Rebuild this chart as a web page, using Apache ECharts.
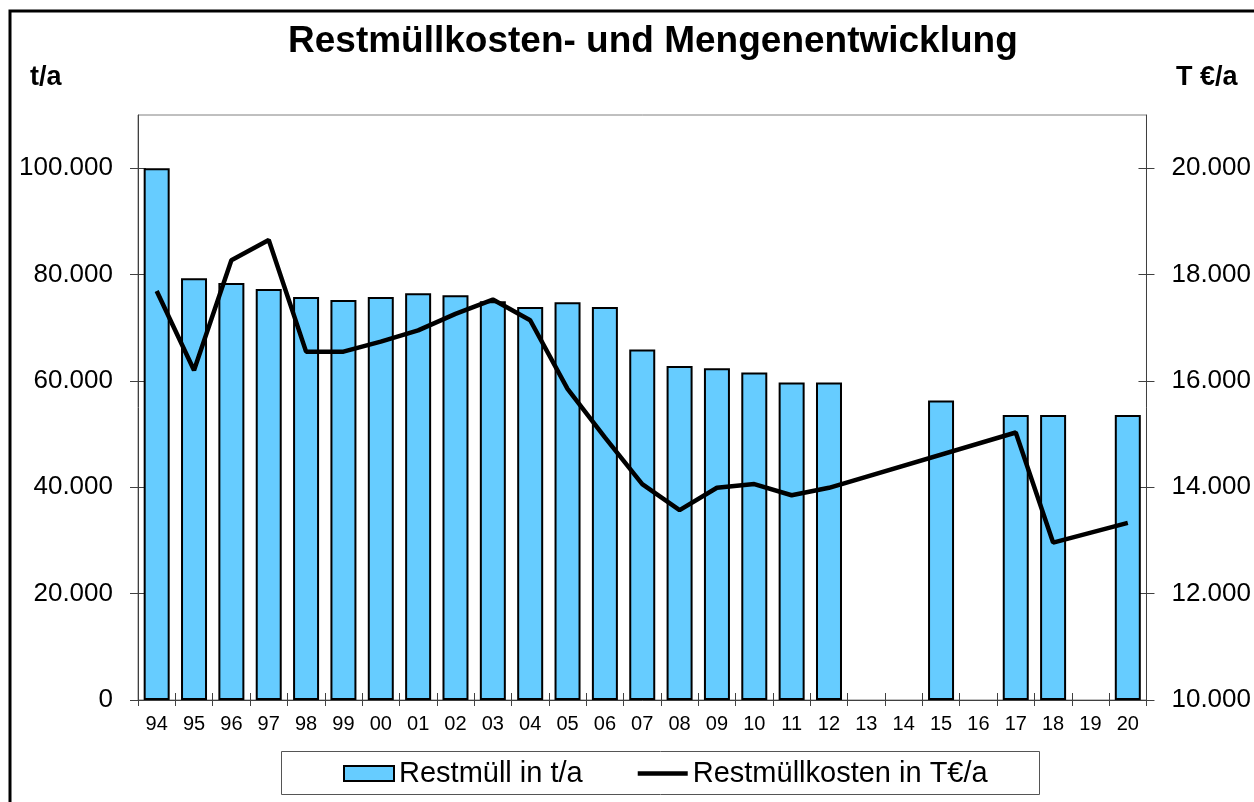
<!DOCTYPE html>
<html>
<head>
<meta charset="utf-8">
<script src="https://cdn.jsdelivr.net/npm/echarts@6/dist/echarts.min.js"></script>
<style>html,body{margin:0;padding:0;background:#fff}#c{width:1254px;height:802px}</style>
</head>
<body>
<div id="c"></div>
<script>
const categories = ['94','95','96','97','98','99','00','01','02','03','04','05','06','07','08','09','10','11','12','13','14','15','16','17','18','19','20'];
const restmuell = [100000, 79300, 78400, 77300, 75800, 75200, 75800, 76500, 76100, 75000, 73900, 74800, 73900, 65900, 62800, 62400, 61600, 59700, 59700, null, null, 56300, null, 53600, 53600, null, 53600];
const kosten = [17690, 16200, 18270, 18650, 16550, 16550, 16740, 16950, 17260, 17530, 17140, 15850, 14940, 14060, 13570, 13990, 14060, 13850, 13990, null, null, null, null, 15030, 12960, null, 13330];
const leftTicks = [0, 20000, 40000, 60000, 80000, 100000];
const rightTicks = [10000, 12000, 14000, 16000, 18000, 20000];
const titleText = 'Restmüllkosten- und Mengenentwicklung';
const leftUnit = 't/a';
const rightUnit = 'T €/a';
const seriesNames = ['Restmüll in t/a', 'Restmüllkosten in T€/a'];

const FONT = '"Liberation Sans", Arial, sans-serif';
function fmt(v){ return String(v).replace(/\B(?=(\d{3})+(?!\d))/g, '.'); }
const axisColor = '#404040';

const chart = echarts.init(document.getElementById('c'));
function yAx(pos, min, max, ticks, inside, showLabel){
  return {
    type: 'value', position: pos, min: min, max: max,
    splitLine: {show: false},
    axisLine: {show: !inside, lineStyle: {color: axisColor, width: 1}},
    axisTick: {show: true, inside: inside, length: 8, customValues: ticks, lineStyle: {color: axisColor}},
    axisLabel: {show: showLabel, customValues: ticks, margin: 25, formatter: fmt, color: '#000', fontSize: 26, fontFamily: FONT}
  };
}
const option = {
  animation: false,
  backgroundColor: '#fff',
  title: {
    text: titleText, left: 283, top: 18,
    textStyle: {fontSize: 37, fontWeight: 'bold', color: '#000', fontFamily: FONT}
  },
  graphic: [
    {type: 'rect', shape: {x: 10, y: 11, width: 1400, height: 1000}, style: {fill: null, stroke: '#000', lineWidth: 3}, z: 100},
    {type: 'rect', shape: {x: 281.5, y: 751.5, width: 758, height: 43}, style: {fill: '#fff', stroke: '#555', lineWidth: 1}, z: 0},
    {type: 'text', left: 30, top: 64, style: {text: leftUnit, font: 'bold 27px ' + FONT, fill: '#000'}},
    {type: 'text', left: 1176, top: 64, style: {text: rightUnit, font: 'bold 27px ' + FONT, fill: '#000'}}
  ],
  legend: {
    left: 338, top: 754, itemGap: 55, itemWidth: 50, itemHeight: 15,
    textStyle: {fontSize: 29, color: '#000', fontFamily: FONT},
    data: [
      {name: seriesNames[0], icon: 'rect'},
      {name: seriesNames[1], icon: 'path://M0,0 L50,0 L50,4.5 L0,4.5 Z'}
    ]
  },
  grid: {left: 138, right: 105, top: 115, bottom: 102, show: true, borderColor: '#808080', borderWidth: 1, containLabel: false},
  xAxis: [
    {
      type: 'category', data: categories, position: 'bottom',
      axisLine: {lineStyle: {color: axisColor}},
      axisTick: {show: true, interval: 0, length: 6, lineStyle: {color: axisColor}},
      axisLabel: {interval: 0, margin: 14, color: '#000', fontSize: 20, fontFamily: FONT}
    },
    {
      type: 'category', data: categories, position: 'bottom', gridIndex: 0,
      axisLine: {show: false},
      axisTick: {show: true, inside: true, interval: 0, length: 7, lineStyle: {color: axisColor}},
      axisLabel: {show: false}
    }
  ],
  yAxis: [
    yAx('left', 0, 110000, leftTicks, false, true),
    yAx('right', 10000, 21000, rightTicks, false, true),
    yAx('left', 0, 110000, leftTicks, true, false),
    yAx('right', 10000, 21000, rightTicks, true, false)
  ],
  series: [
    {
      name: seriesNames[0], type: 'bar', data: restmuell, yAxisIndex: 0, barWidth: 26,
      itemStyle: {color: '#66CCFF', borderColor: '#000', borderWidth: 2}
    },
    {
      name: seriesNames[1], type: 'line', data: kosten, yAxisIndex: 1, connectNulls: true,
      symbol: 'none', lineStyle: {color: '#000', width: 4.5}, itemStyle: {color: '#000'}, z: 5
    }
  ]
};
chart.setOption(option);
</script>
</body>
</html>
